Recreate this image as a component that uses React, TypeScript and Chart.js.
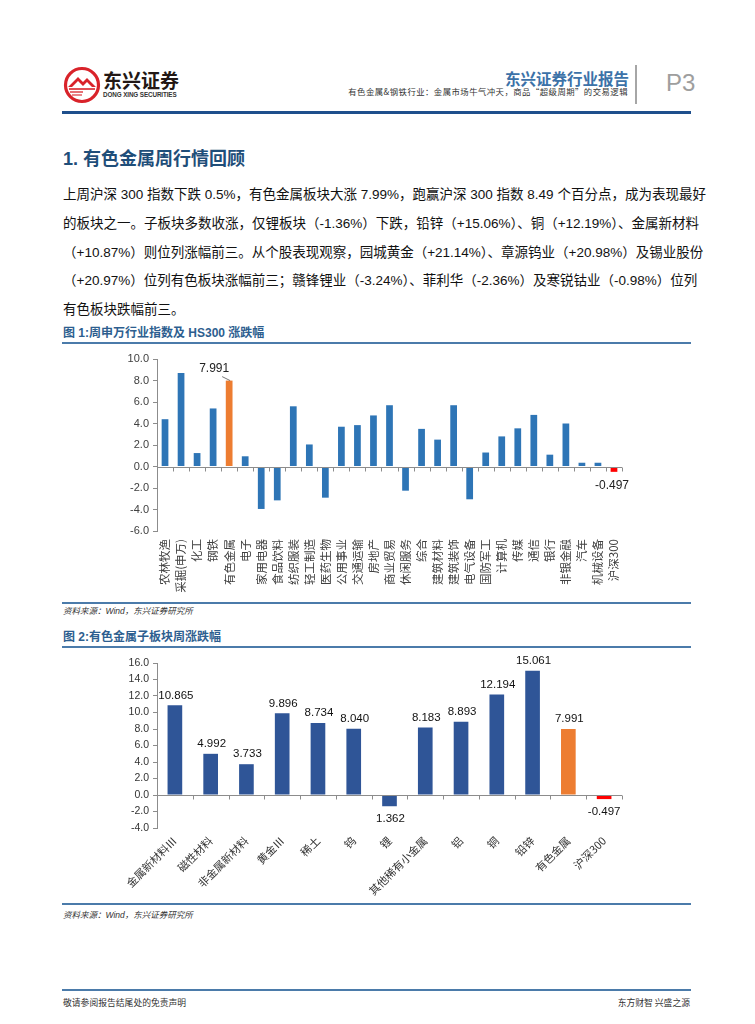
import React, { useEffect, useRef } from 'react';
import { Chart, registerables } from 'chart.js';

Chart.register(...registerables);

// ---------- Data ----------
const industryLabels = [
  '农林牧渔', '采掘(申万)', '化工', '钢铁', '有色金属', '电子', '家用电器', '食品饮料',
  '纺织服装', '轻工制造', '医药生物', '公用事业', '交通运输', '房地产', '商业贸易', '休闲服务',
  '综合', '建筑材料', '建筑装饰', '电气设备', '国防军工', '计算机', '传媒', '通信',
  '银行', '非银金融', '汽车', '机械设备', '沪深300',
];
const industryValues = [
  4.4, 8.7, 1.25, 5.4, 7.991, 0.95, -3.95, -3.15,
  5.6, 2.05, -2.9, 3.7, 3.85, 4.75, 5.7, -2.25,
  3.5, 2.5, 5.7, -3.05, 1.3, 2.8, 3.55, 4.8,
  1.1, 4.0, 0.35, 0.35, -0.497,
];
const industryTicks = [-6, -4, -2, 0, 2, 4, 6, 8, 10];

const subLabels = [
  '金属新材料Ⅲ', '磁性材料', '非金属新材料', '黄金Ⅲ', '稀土', '钨', '锂',
  '其他稀有小金属', '铝', '铜', '铅锌', '有色金属', '沪深300',
];
const subValues = [10.865, 4.992, 3.733, 9.896, 8.734, 8.04, -1.362, 8.183, 8.893, 12.194, 15.061, 7.991, -0.497];
const subValueText = ['10.865', '4.992', '3.733', '9.896', '8.734', '8.040', '1.362', '8.183', '8.893', '12.194', '15.061', '7.991', '-0.497'];
const subTicks = [-4, -2, 0, 2, 4, 6, 8, 10, 12, 14, 16];

const paragraphLines = [
  '上周沪深 300 指数下跌 0.5%，有色金属板块大涨 7.99%，跑赢沪深 300 指数 8.49 个百分点，成为表现最好',
  '的板块之一。子板块多数收涨，仅锂板块（-1.36%）下跌，铅锌（+15.06%）、铜（+12.19%）、金属新材料',
  '（+10.87%）则位列涨幅前三。从个股表现观察，园城黄金（+21.14%）、章源钨业（+20.98%）及锡业股份',
  '（+20.97%）位列有色板块涨幅前三；赣锋锂业（-3.24%）、菲利华（-2.36%）及寒锐钴业（-0.98%）位列',
  '有色板块跌幅前三。',
];

// ---------- Styles ----------
const BLUE1 = '#2E75B6';
const BLUE2 = '#2F5597';
const ORANGE = '#ED7D31';
const RED = '#FF0000';
const AXIS = '#8C8C8C';
const CJK = '"Noto Sans CJK SC", sans-serif';
const MIX = '"Liberation Sans", "Noto Sans CJK SC", sans-serif';
const NUM = '"Liberation Sans", Arial, sans-serif';
const TITLE_BLUE = '#2D5E8F';
const RULE_BLUE = '#4B7BAA';

function colorFor(label: string, base: string) {
  if (label === '有色金属') return ORANGE;
  if (label === '沪深300') return RED;
  return base;
}

const zeroAxisPlugin = {
  id: 'zeroAxis',
  afterDatasetsDraw(chart: any) {
    const { ctx, chartArea, scales } = chart;
    const x = scales.x;
    const y = scales.y;
    const y0 = Math.round(y.getPixelForValue(0)) + 0.5;
    ctx.save();
    ctx.strokeStyle = AXIS;
    ctx.lineWidth = 1;
    ctx.beginPath();
    ctx.moveTo(chartArea.left, y0);
    ctx.lineTo(chartArea.right, y0);
    const n = x.ticks.length;
    for (let i = 0; i <= n; i++) {
      const px = Math.round(x.getPixelForValue(i - 0.5)) + 0.5;
      ctx.moveTo(px, y0);
      ctx.lineTo(px, y0 + 4);
    }
    ctx.stroke();
    ctx.restore();
  },
};

const industryLabelPlugin = {
  id: 'industryLabels',
  afterDatasetsDraw(chart: any) {
    const { ctx } = chart;
    const meta = chart.getDatasetMeta(0);
    ctx.save();
    ctx.font = '12px ' + NUM;
    ctx.fillStyle = '#222';
    ctx.textAlign = 'center';
    ctx.textBaseline = 'middle';
    const hi = industryLabels.indexOf('有色金属');
    if (hi >= 0) {
      const b = meta.data[hi];
      ctx.fillText(industryValues[hi].toFixed(3), b.x - 15, b.y - 12);
      ctx.strokeStyle = '#555';
      ctx.lineWidth = 0.8;
      ctx.beginPath();
      ctx.moveTo(b.x - 7, b.y - 4);
      ctx.lineTo(b.x + 1, b.y);
      ctx.stroke();
    }
    const hs = industryLabels.indexOf('沪深300');
    if (hs >= 0) {
      const b = meta.data[hs];
      ctx.fillText(industryValues[hs].toFixed(3), b.x - 2, b.y + 14);
    }
    ctx.restore();
  },
};

const subLabelPlugin = {
  id: 'subLabels',
  afterDatasetsDraw(chart: any) {
    const { ctx } = chart;
    const meta = chart.getDatasetMeta(0);
    ctx.save();
    ctx.font = '11.5px ' + NUM;
    ctx.fillStyle = '#111';
    ctx.textAlign = 'center';
    ctx.textBaseline = 'middle';
    meta.data.forEach((b: any, i: number) => {
      const v = subValues[i];
      const yy = v >= 0 ? b.y - 10 : b.y + 13;
      ctx.fillText(subValueText[i], b.x + (v < 0 && i === subValues.length - 1 ? 0 : 1), yy);
    });
    ctx.restore();
  },
};

function makeIndustryConfig(): any {
  return {
    type: 'bar',
    data: {
      labels: industryLabels,
      datasets: [{
        data: industryValues,
        backgroundColor: industryLabels.map((l) => colorFor(l, BLUE1)),
        barPercentage: 0.42,
        categoryPercentage: 1,
      }],
    },
    options: {
      responsive: false,
      animation: false,
      devicePixelRatio: 1,
      layout: { padding: { left: 0, right: 68, top: 12, bottom: 0 } },
      plugins: { legend: { display: false }, tooltip: { enabled: false } },
      scales: {
        x: {
          grid: { display: false, drawTicks: false },
          border: { display: false },
          ticks: {
            autoSkip: false, maxRotation: 90, minRotation: 90, padding: 8,
            font: { family: CJK, size: 11.5 }, color: '#404040',
          },
          afterFit: (s: any) => { s.height = 69; },
        },
        y: {
          min: industryTicks[0],
          max: industryTicks[industryTicks.length - 1],
          ticks: {
            stepSize: 2, padding: 4,
            callback: (v: any) => Number(v).toFixed(1),
            font: { family: NUM, size: 11 }, color: '#404040',
          },
          grid: { drawOnChartArea: false, drawTicks: true, tickLength: 4, color: AXIS },
          border: { display: true, color: AXIS },
          afterFit: (s: any) => { s.width = 95; },
        },
      },
    },
    plugins: [zeroAxisPlugin, industryLabelPlugin],
  };
}

function makeSubConfig(): any {
  return {
    type: 'bar',
    data: {
      labels: subLabels,
      datasets: [{
        data: subValues,
        backgroundColor: subLabels.map((l) => colorFor(l, BLUE2)),
        barPercentage: 0.41,
        categoryPercentage: 1,
      }],
    },
    options: {
      responsive: false,
      animation: false,
      devicePixelRatio: 1,
      layout: { padding: { left: 0, right: 68, top: 13, bottom: 0 } },
      plugins: { legend: { display: false }, tooltip: { enabled: false } },
      scales: {
        x: {
          grid: { display: false, drawTicks: false },
          border: { display: false },
          ticks: {
            autoSkip: false, maxRotation: 45, minRotation: 45, padding: 6,
            font: { family: CJK, size: 11 }, color: '#333',
          },
          afterFit: (s: any) => { s.height = 72; },
        },
        y: {
          min: subTicks[0],
          max: subTicks[subTicks.length - 1],
          ticks: {
            stepSize: 2, padding: 4,
            callback: (v: any) => Number(v).toFixed(1),
            font: { family: NUM, size: 10.5 }, color: '#333',
          },
          grid: { drawOnChartArea: false, drawTicks: true, tickLength: 4, color: AXIS },
          border: { display: true, color: AXIS },
          afterFit: (s: any) => { s.width = 95; },
        },
      },
    },
    plugins: [zeroAxisPlugin, subLabelPlugin],
  };
}

function ChartBox({ make, left, top, width, height }: any) {
  const ref = useRef<HTMLCanvasElement>(null);
  useEffect(() => {
    const chart = new Chart(ref.current as HTMLCanvasElement, make());
    return () => chart.destroy();
  }, []);
  return (
    <div style={{ position: 'absolute', left, top, width, height }}>
      <canvas ref={ref} width={width} height={height} style={{ display: 'block', width, height }} />
    </div>
  );
}

function Abs({ left, top, width, height, style, children }: any) {
  return (
    <div style={{ position: 'absolute', left, top, width, height, ...style }}>{children}</div>
  );
}

function Rule({ top, height = 2, color = RULE_BLUE }: any) {
  return <Abs left={62} top={top} width={629} height={height} style={{ background: color }} />;
}

function Logo() {
  return (
    <svg width={38} height={38} viewBox="0 0 38 38" style={{ position: 'absolute', left: 63, top: 66 }}>
      <circle cx={19} cy={19} r={16.5} fill="none" stroke="#D9232A" strokeWidth={3.2} />
      <path d="M5 21 L15 11 L20 16 L24 12 L33 21 L29 21 L24 16 L20 20 L15 15 L9 21 Z" fill="#D9232A" />
      <path d="M6 23 L32 23" stroke="#D9232A" strokeWidth={1.6} />
      <path d="M7 26 L20 26" stroke="#D9232A" strokeWidth={1.3} />
      <path d="M9 29 L19 29" stroke="#D9232A" strokeWidth={1.1} />
    </svg>
  );
}

export default function App() {
  return (
    <div style={{ position: 'absolute', left: 0, top: 0, width: 755, height: 1024, background: '#fff', overflow: 'hidden' }}>
      {/* Header */}
      <Logo />
      <Abs left={103} top={68} style={{ font: `bold 19px ${CJK}`, color: '#231815', lineHeight: '24px', whiteSpace: 'nowrap' }}>东兴证券</Abs>
      <Abs left={103} top={91} style={{ font: `bold 6.3px ${NUM}`, color: '#333', lineHeight: '8px', whiteSpace: 'nowrap', letterSpacing: '-0.1px' }}>DONG XING SECURITIES</Abs>
      <Abs left={380} top={67} width={249} style={{ font: `bold 15.5px ${CJK}`, color: '#3C72A8', textAlign: 'right', lineHeight: '22px', whiteSpace: 'nowrap' }}>东兴证券行业报告</Abs>
      <Abs left={300} top={86} width={328} style={{ font: `8.4px ${CJK}`, color: '#333', textAlign: 'right', lineHeight: '11px', whiteSpace: 'nowrap', letterSpacing: '0.45px' }}>有色金属&amp;钢铁行业：金属市场牛气冲天，商品“超级周期”的交易逻辑</Abs>
      <Abs left={635} top={65} width={2} height={39} style={{ background: '#A6A6A6' }} />
      <Abs left={666} top={68} style={{ font: `24px ${NUM}`, color: '#9E9E9E', lineHeight: '30px', whiteSpace: 'nowrap' }}>P3</Abs>
      <Rule top={111} height={3} color="#1E4F8C" />

      {/* Section heading */}
      <Abs left={63} top={146} style={{ font: `bold 18px ${MIX}`, color: '#1F4E79', lineHeight: '26px', whiteSpace: 'nowrap' }}>1. 有色金属周行情回顾</Abs>

      {/* Paragraph */}
      {paragraphLines.map((line, i) => (
        <Abs key={i} left={63} top={181 + i * 28.8} width={627} height={28}
          style={{
            font: `13.5px ${MIX}`, color: '#111', lineHeight: '28px', whiteSpace: 'nowrap',
            textAlign: i < paragraphLines.length - 1 ? 'justify' : 'left',
            textAlignLast: i < paragraphLines.length - 1 ? 'justify' : 'left',
          }}>{line}</Abs>
      ))}

      {/* Figure 1 */}
      <Abs left={63} top={325} style={{ font: `bold 12px ${MIX}`, color: TITLE_BLUE, lineHeight: '16px', whiteSpace: 'nowrap' }}>图 1:周申万行业指数及 HS300 涨跌幅</Abs>
      <Rule top={342} />
      <ChartBox make={makeIndustryConfig} left={62} top={347} width={628} height={253} />
      <Rule top={602} />
      <Abs left={63} top={605} style={{ font: `italic 8.5px ${MIX}`, color: '#333', lineHeight: '12px', whiteSpace: 'nowrap' }}>资料来源：Wind，东兴证券研究所</Abs>

      {/* Figure 2 */}
      <Abs left={63} top={629} style={{ font: `bold 12px ${MIX}`, color: TITLE_BLUE, lineHeight: '16px', whiteSpace: 'nowrap' }}>图 2:有色金属子板块周涨跌幅</Abs>
      <Rule top={646} />
      <ChartBox make={makeSubConfig} left={62} top={650} width={628} height={250} />
      <Rule top={903} />
      <Abs left={63} top={909} style={{ font: `italic 8.5px ${MIX}`, color: '#333', lineHeight: '12px', whiteSpace: 'nowrap' }}>资料来源：Wind，东兴证券研究所</Abs>

      {/* Footer */}
      <Rule top={989} />
      <Abs left={63} top={997} style={{ font: `8.8px ${CJK}`, color: '#333', lineHeight: '12px', whiteSpace: 'nowrap' }}>敬请参阅报告结尾处的免责声明</Abs>
      <Abs left={500} top={997} width={190} style={{ font: `8.8px ${CJK}`, color: '#333', lineHeight: '12px', whiteSpace: 'nowrap', textAlign: 'right' }}>东方财智 兴盛之源</Abs>
    </div>
  );
}
